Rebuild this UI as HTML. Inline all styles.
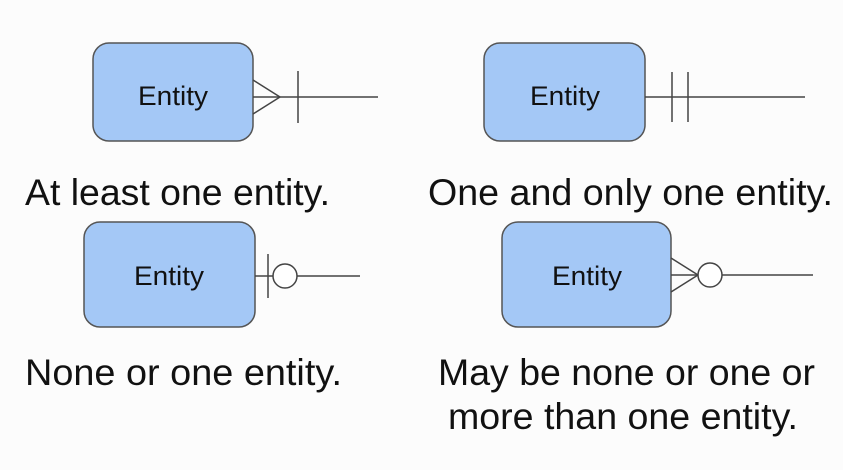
<!DOCTYPE html>
<html><head><meta charset="utf-8"><style>
html,body{margin:0;padding:0;background:#fcfcfc;}
svg{display:block;}
text{font-family:"Liberation Sans",sans-serif;fill:#111;}
</style></head><body>
<svg width="843" height="470" viewBox="0 0 843 470">
<rect width="843" height="470" fill="#fcfcfc"/>
<g stroke="#444" stroke-width="1.5" fill="none">
  <g>
    <rect x="93" y="43" width="160" height="98" rx="16" fill="#a4c8f6" stroke="#555"/>
    <line x1="253" y1="97" x2="378" y2="97"/>
    <line x1="253" y1="80" x2="280" y2="97"/><line x1="253" y1="114" x2="280" y2="97"/>
    <line x1="298" y1="71" x2="298" y2="123"/>
  </g>
  <g>
    <rect x="484" y="43" width="161" height="98" rx="16" fill="#a4c8f6" stroke="#555"/>
    <line x1="645" y1="97" x2="805" y2="97"/>
    <line x1="672" y1="72" x2="672" y2="122"/><line x1="688" y1="72" x2="688" y2="122"/>
  </g>
  <g>
    <rect x="84" y="222" width="171" height="105" rx="16" fill="#a4c8f6" stroke="#555"/>
    <line x1="255" y1="276" x2="273" y2="276"/>
    <line x1="297" y1="276" x2="360" y2="276"/>
    <line x1="268" y1="254" x2="268" y2="298"/>
    <circle cx="285" cy="276" r="12" fill="#fff"/>
  </g>
  <g>
    <rect x="502" y="222" width="169" height="105" rx="16" fill="#a4c8f6" stroke="#555"/>
    <line x1="671" y1="275" x2="698" y2="275"/>
    <line x1="671" y1="258" x2="698" y2="275"/><line x1="671" y1="292" x2="698" y2="275"/>
    <line x1="722" y1="275" x2="813" y2="275"/>
    <circle cx="710" cy="275" r="12" fill="#fff"/>
  </g>
</g>
<g font-size="27">
  <text x="138" y="105" textLength="70" lengthAdjust="spacingAndGlyphs">Entity</text>
  <text x="530" y="105" textLength="70" lengthAdjust="spacingAndGlyphs">Entity</text>
  <text x="134" y="285" textLength="70" lengthAdjust="spacingAndGlyphs">Entity</text>
  <text x="552" y="285" textLength="70" lengthAdjust="spacingAndGlyphs">Entity</text>
</g>
<g font-size="37">
  <text x="25" y="205" textLength="305" lengthAdjust="spacingAndGlyphs">At least one entity.</text>
  <text x="428" y="205" textLength="405" lengthAdjust="spacingAndGlyphs">One and only one entity.</text>
  <text x="25" y="385" textLength="317" lengthAdjust="spacingAndGlyphs">None or one entity.</text>
  <text x="438" y="385" textLength="377" lengthAdjust="spacingAndGlyphs">May be none or one or</text>
  <text x="448" y="429" textLength="350" lengthAdjust="spacingAndGlyphs">more than one entity.</text>
</g>
</svg>
</body></html>
